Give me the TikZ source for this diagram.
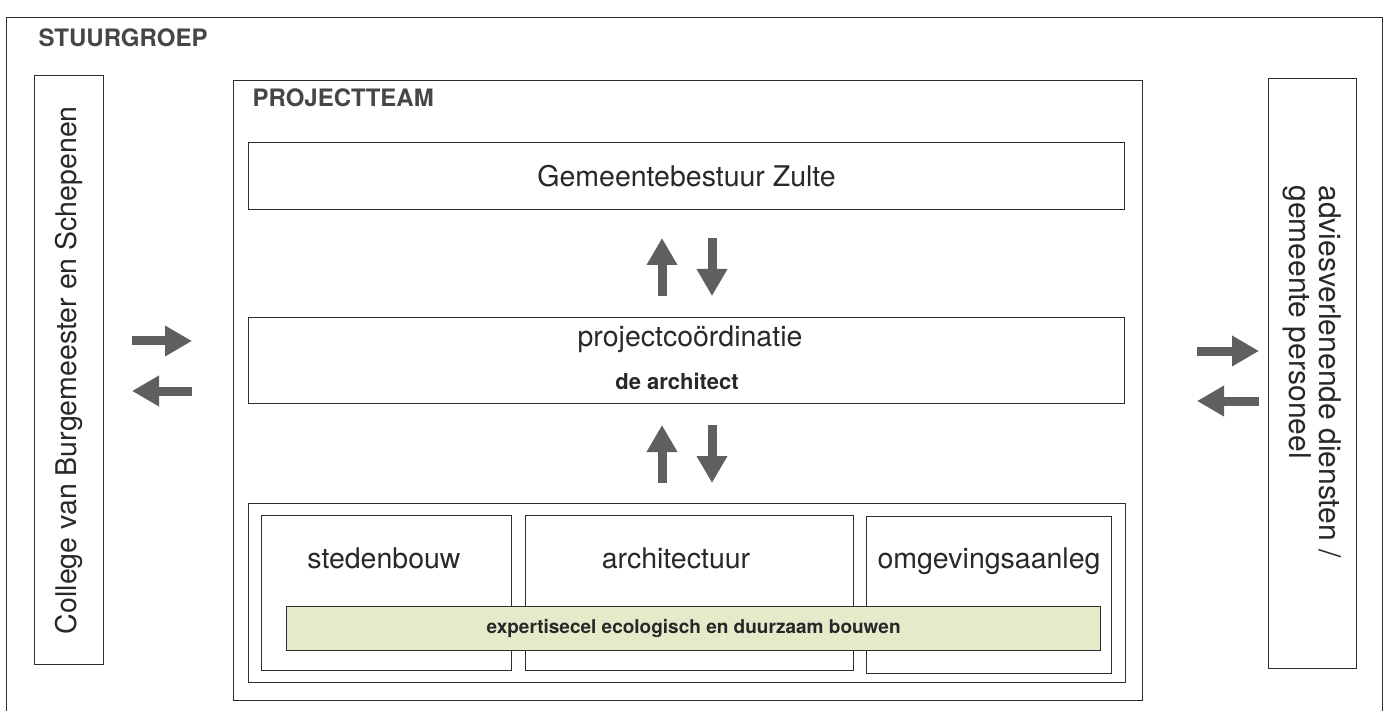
\documentclass[tikz,border=0pt]{standalone}
\usepackage{fontspec}
\setmainfont{TeX Gyre Heros}
\usetikzlibrary{arrows.meta,positioning}
\definecolor{linegrey}{RGB}{45,45,45}
\definecolor{textgrey}{RGB}{40,40,40}
\definecolor{titlegrey}{RGB}{70,70,70}
\definecolor{arrowgrey}{RGB}{95,95,95}
\definecolor{ecogreen}{RGB}{227,235,203}

\begin{document}
\begin{tikzpicture}[x=1pt,y=-1pt,
  box/.style={draw=linegrey,line width=1.2pt,anchor=north west,inner sep=0pt},
  txt/.style={text=textgrey,font=\fontsize{28.5}{30}\selectfont},
  title/.style={text=titlegrey,font=\fontsize{24}{28}\selectfont\bfseries,anchor=base west},
  flow/.style={arrowgrey,line width=9pt,-{Triangle[width=29pt,length=27pt]}}]
\clip (0,0) rectangle (1387,711);

% stuurgroep frame (runs past the bottom edge)
\node[box,minimum width=1376pt,minimum height=730pt] (stuurgroep) at (6,17) {};
\node[title] (stuurlbl) at (35,47) {STUURGROEP};

% left and right side boxes
\node[box,minimum width=69pt,minimum height=589pt] (college) at (34,75) {};
\node[txt,rotate=90] (collegelbl) at (college.center) {College van Burgemeester en Schepenen};
\node[box,minimum width=88pt,minimum height=590pt] (advies) at (1268,78) {};
\node[txt,font=\fontsize{30}{30}\selectfont,rotate=-90,align=left,anchor=west] (advieslbl) at (1312,182)
  {adviesverlenende diensten /\\gemeente personeel};

% projectteam
\node[box,minimum width=909pt,minimum height=620pt] (projectteam) at (233,80) {};
\node[title] (ptlbl) at (249,107) {PROJECTTEAM};

\node[box,txt,minimum width=876pt,minimum height=67pt] (gemeente) at (248,142) {Gemeentebestuur Zulte};

\node[box,minimum width=876pt,minimum height=86pt] (coord) at (248,317) {};
\node[txt,anchor=base] (coordlbl) at (690,346) {projectcoördinatie};
\node[anchor=base,text=textgrey,font=\fontsize{22}{24}\selectfont\bfseries] (archlbl) at (677,389) {de architect};

% disciplines
\node[box,minimum width=877pt,minimum height=179pt] (team) at (248,503) {};
\node[box,minimum width=250pt,minimum height=155pt] (steden) at (261,515) {};
\node[box,minimum width=328pt,minimum height=155pt] (archi) at (525,515) {};
\node[box,minimum width=245pt,minimum height=157pt] (omgeving) at (866,516) {};
\node[txt,anchor=base] (stedenlbl) at (384,568) {stedenbouw};
\node[txt,anchor=base] (archilbl) at (676,568) {architectuur};
\node[txt,anchor=base] (omgevinglbl) at (989,568) {omgevingsaanleg};
\node[box,fill=ecogreen,minimum width=814pt,minimum height=44pt,text=textgrey,
  font=\fontsize{19}{22}\selectfont\bfseries] (expertise) at (286,606)
  {expertisecel ecologisch en duurzaam bouwen};

% block arrows
\foreach \n/\y in {1/0,2/187}{
  \coordinate (up\n) at (662,296+\y);
  \coordinate (down\n) at (712,238+\y);
  \draw[flow] (up\n) -- ++(0,-58);
  \draw[flow] (down\n) -- ++(0,58);
}
\coordinate (lin) at (132,341);
\coordinate (lout) at (192,391);
\coordinate (rin) at (1197,351);
\coordinate (rout) at (1259,401);
\draw[flow] (lin) -- ++(60,0);
\draw[flow] (lout) -- ++(-60,0);
\draw[flow] (rin) -- ++(62,0);
\draw[flow] (rout) -- ++(-62,0);
\end{tikzpicture}
\end{document}
